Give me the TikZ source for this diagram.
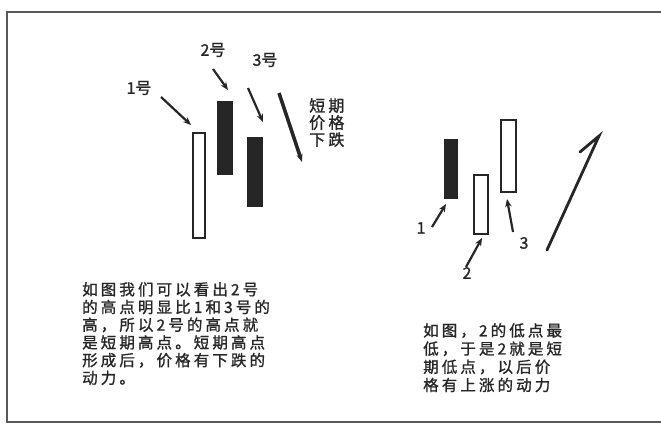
\documentclass[tikz,border=0pt]{standalone}
\usepackage{fontspec}
\newfontfamily\cjk[LetterSpace=20,FakeBold=1.2]{Noto Sans CJK SC}
\newfontfamily\cjktight[FakeBold=1.2]{Noto Sans CJK SC}
\usetikzlibrary{arrows.meta}
\begin{document}
\begin{tikzpicture}[x=1pt,y=-1pt,
  frame/.style={draw=black!65, line width=1.6pt},
  upc/.style={draw=black!85, fill=white, line width=2pt, inner sep=0pt},
  downc/.style={draw=black!85, fill=black!85, line width=2pt, inner sep=0pt},
  lbl/.style={inner sep=0pt, text=black!85, font=\cjktight\fontsize{16}{17}\selectfont},
  para/.style={inner sep=0pt, anchor=north west, align=left, text=black!85},
  ptr/.style={draw=black!85, line width=2.2pt, -{Stealth[length=8pt,width=6.5pt]}},
  bigptr/.style={draw=black!85, line width=3.6pt, -{Stealth[length=8pt,width=6pt]}},
  uparrow/.style={draw=black!85, line width=2.8pt, line cap=round}]
\useasboundingbox (0,0) rectangle (661,424);
\draw[frame] (662,12) -- (7,12) -- (7,422) -- (662,422);

% left chart candles
\node[upc, minimum width=12pt, minimum height=105pt] (L1) at (199,185.5) {};
\node[downc, minimum width=14pt, minimum height=72pt] (L2) at (225,138) {};
\node[downc, minimum width=14pt, minimum height=68pt] (L3) at (255,172) {};

\node[lbl] (n1) at (139,88) {1号};
\node[lbl] (n2) at (213,50) {2号};
\node[lbl] (n3) at (265,60) {3号};

\coordinate (a1s) at (161,97);  \coordinate (a1e) at (191,125);
\coordinate (a2s) at (213,69);  \coordinate (a2e) at (228,90);
\coordinate (a3s) at (248,88);  \coordinate (a3e) at (263,122);
\coordinate (ds) at (279,93);   \coordinate (de) at (302,162);
\draw[ptr] (a1s) -- (a1e);
\draw[ptr] (a2s) -- (a2e);
\draw[ptr] (a3s) -- (a3e);
\draw[bigptr] (ds) -- (de);

\node[para, font=\cjk\fontsize{16}{17}\selectfont] (fall) at (309,98) {短期\\价格\\下跌};

\node[para, font=\cjk\fontsize{15.5}{17.7}\selectfont] (txtL) at (82,282)
  {如图我们可以看出2号\\的高点明显比1和3号的\\高，所以2号的高点就\\是短期高点。短期高点\\形成后，价格有下跌的\\动力。};

% right chart candles
\node[downc, minimum width=12pt, minimum height=58pt] (R1) at (451,169) {};
\node[upc, minimum width=14pt, minimum height=59pt] (R2) at (481,204.5) {};
\node[upc, minimum width=15pt, minimum height=72pt] (R3) at (508.5,156) {};

\node[lbl] (m1) at (421,228) {1};
\node[lbl] (m2) at (467,273) {2};
\node[lbl] (m3) at (524,243) {3};

\coordinate (b1s) at (432,227); \coordinate (b1e) at (446,204);
\coordinate (b2s) at (466,267); \coordinate (b2e) at (482,238);
\coordinate (b3s) at (513,232); \coordinate (b3e) at (507,199);
\draw[ptr] (b1s) -- (b1e);
\draw[ptr] (b2s) -- (b2e);
\draw[ptr] (b3s) -- (b3e);

\coordinate (us) at (547,250); \coordinate (ue) at (599,136); \coordinate (ub) at (580,152);
\draw[uparrow] (us) -- (ue) -- (ub);

\node[para, font=\cjk\fontsize{15.5}{18.2}\selectfont] (txtR) at (423,323)
  {如图，2的低点最\\低，于是2就是短\\期低点，以后价\\格有上涨的动力};
\end{tikzpicture}
\end{document}
